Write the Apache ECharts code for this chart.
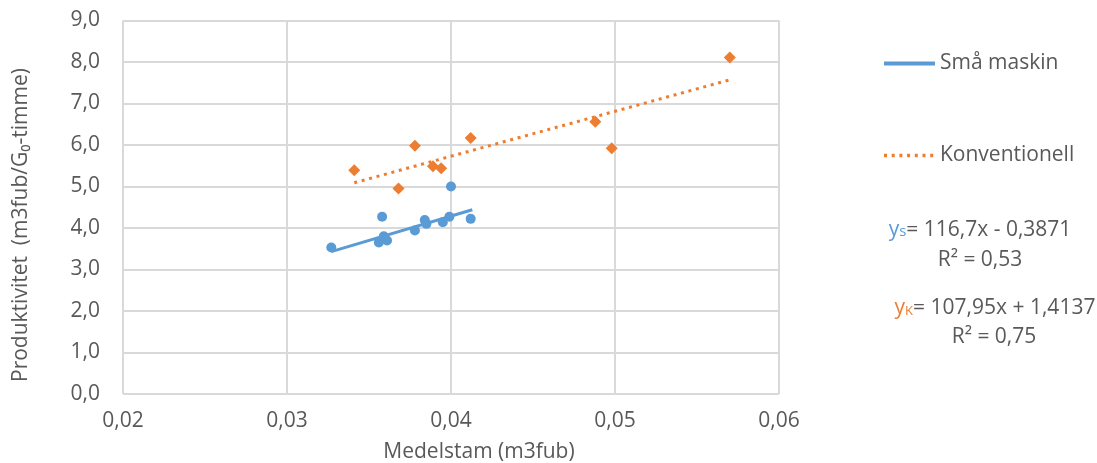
<!DOCTYPE html>
<html>
<head>
<meta charset="utf-8">
<script src="https://cdn.jsdelivr.net/npm/echarts@6/dist/echarts.min.js"></script>
<style>
html,body{margin:0;padding:0;background:#fff;}
#c{width:1097px;height:463px;}
</style>
</head>
<body>
<div id="c"></div>
<script>
// Data
const smaPoints = [
  [0.0327, 3.53], [0.0358, 4.27], [0.0356, 3.65], [0.0359, 3.80], [0.0361, 3.70],
  [0.0378, 3.94], [0.0384, 4.19], [0.0385, 4.10], [0.0395, 4.14], [0.0399, 4.27],
  [0.0400, 5.00], [0.0412, 4.22]
];
const konvPoints = [
  [0.0341, 5.39], [0.0368, 4.95], [0.0378, 5.98], [0.0389, 5.49], [0.0394, 5.44],
  [0.0412, 6.17], [0.0488, 6.56], [0.0498, 5.92], [0.0570, 8.11]
];
const smaTrend = [[0.0327, 3.43], [0.0413, 4.44]];
const konvTrend = [[0.0341, 5.09], [0.0570, 7.57]];
const seriesNames = ['Små maskin', 'Konventionell'];
const xTicks = [0.02, 0.03, 0.04, 0.05, 0.06];
const yTicks = [0, 1, 2, 3, 4, 5, 6, 7, 8, 9];
const xTitle = 'Medelstam (m3fub)';
const yTitle = 'Produktivitet  (m3fub/G₀-timme)';

const blue = '#5b9bd5', orange = '#ed7d31', txt = '#595959', gridC = '#d9d9d9';
const FONT = 'Open Sans';
const FS = 21;

const chart = echarts.init(document.getElementById('c'), null, {renderer: 'canvas'});
chart.setOption({
  animation: false,
  backgroundColor: '#fff',
  textStyle: {fontFamily: FONT},
  grid: {left: 123, right: 318, top: 20.5, bottom: 69, containLabel: false},
  xAxis: {
    type: 'value', min: xTicks[0], max: xTicks[xTicks.length - 1], interval: 0.01,
    axisLine: {show: false}, axisTick: {show: false},
    axisLabel: {color: txt, fontSize: FS, margin: 17, fontFamily: FONT,
      formatter: v => v.toFixed(2).replace('.', ',')},
    splitLine: {show: true, lineStyle: {color: gridC, width: 2}}
  },
  yAxis: {
    type: 'value', min: yTicks[0], max: yTicks[yTicks.length - 1], interval: 1,
    axisLine: {show: false}, axisTick: {show: false},
    axisLabel: {color: txt, fontSize: FS, margin: 23, fontFamily: FONT,
      formatter: v => v.toFixed(1).replace('.', ',')},
    splitLine: {show: true, lineStyle: {color: gridC, width: 2}}
  },
  legend: {
    orient: 'vertical', left: 877, top: 48, itemWidth: 51, itemHeight: 20, itemGap: 71,
    data: [
      {name: seriesNames[0], lineStyle: {width: 4}},
      {name: seriesNames[1], lineStyle: {width: 3.5}}
    ],
    itemStyle: {opacity: 0},
    textStyle: {color: txt, fontSize: FS, fontFamily: FONT}
  },
  series: [
    {name: 'smaPts', type: 'scatter', data: smaPoints, symbol: 'circle', symbolSize: 10,
      itemStyle: {color: blue, opacity: 1}, z: 3},
    {name: 'konvPts', type: 'scatter', data: konvPoints, symbol: 'diamond', symbolSize: 12,
      itemStyle: {color: orange, opacity: 1}, z: 3},
    {name: seriesNames[0], type: 'line', data: smaTrend, symbol: 'none',
      itemStyle: {color: blue}, lineStyle: {color: blue, width: 3}, z: 2},
    {name: seriesNames[1], type: 'line', data: konvTrend, symbol: 'none',
      itemStyle: {color: orange}, lineStyle: {color: orange, width: 3, type: [3, 4.7], cap: 'butt'}, z: 2}
  ],
  graphic: [
    {type: 'text', x: 479, y: 452, style: {text: xTitle, fill: txt, fontSize: FS, fontFamily: FONT,
      align: 'center', verticalAlign: 'middle'}},
    {type: 'text', x: 21, y: 225, rotation: Math.PI / 2, style: {text: yTitle, fill: txt, fontSize: FS, fontFamily: FONT,
      align: 'center', verticalAlign: 'middle'}},
    {type: 'text', x: 980, y: 230, style: {
      text: '{c|y}{s|s}{t|= 116,7x - 0,3871}', align: 'center', verticalAlign: 'middle',
      rich: {c: {fill: blue, fontSize: FS, fontFamily: FONT, verticalAlign: 'bottom'},
             s: {fill: blue, fontSize: 15, fontFamily: FONT, verticalAlign: 'bottom', padding: [0,0,1,0]},
             t: {fill: txt, fontSize: FS, fontFamily: FONT, verticalAlign: 'bottom'}}}},
    {type: 'text', x: 980, y: 260, style: {text: 'R² = 0,53', fill: txt, fontSize: FS, fontFamily: FONT,
      align: 'center', verticalAlign: 'middle'}},
    {type: 'text', x: 995, y: 308, style: {
      text: '{c|y}{s|K}{t|= 107,95x + 1,4137}', align: 'center', verticalAlign: 'middle',
      rich: {c: {fill: orange, fontSize: FS, fontFamily: FONT, verticalAlign: 'bottom'},
             s: {fill: orange, fontSize: 13, fontFamily: FONT, verticalAlign: 'bottom', padding: [0,0,1,0]},
             t: {fill: txt, fontSize: FS, fontFamily: FONT, verticalAlign: 'bottom'}}}},
    {type: 'text', x: 994, y: 337, style: {text: 'R² = 0,75', fill: txt, fontSize: FS, fontFamily: FONT,
      align: 'center', verticalAlign: 'middle'}}
  ]
});
</script>
</body>
</html>
